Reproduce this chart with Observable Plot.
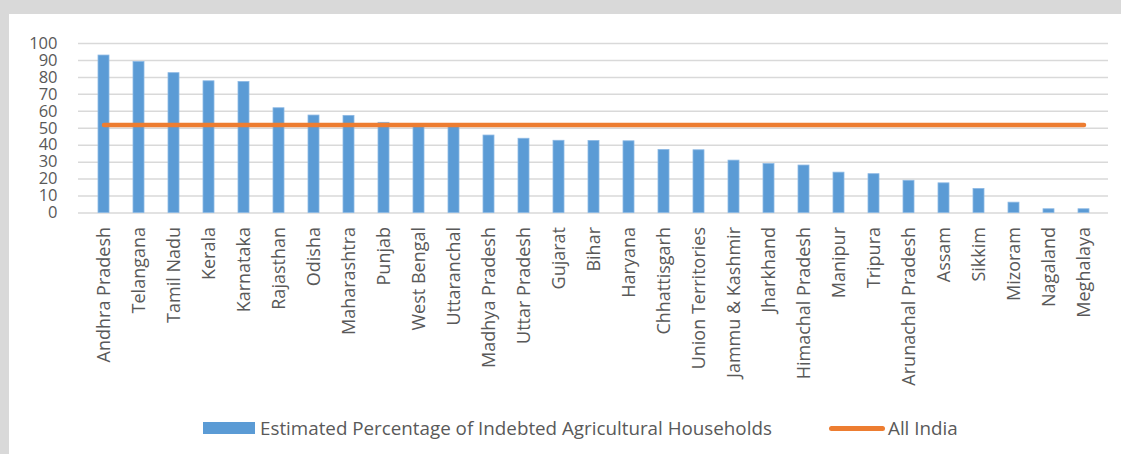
<!DOCTYPE html>
<html>
<head>
<meta charset="utf-8">
<script src="https://cdn.jsdelivr.net/npm/d3@7"></script>
<script src="https://cdn.jsdelivr.net/npm/@observablehq/plot@0.6"></script>
<style>
  html, body { margin: 0; padding: 0; background: #D9D9D9; width: 1121px; height: 454px; overflow: hidden; }
  #panel { position: absolute; left: 9px; top: 14px; width: 1112px; height: 440px; background: #fff; }
  #chart { position: absolute; left: 0; top: 0; }
  .sw { position: absolute; }
  .lt { position: absolute; top: 401px; height: 26px; line-height: 26px; font-family: "Open Sans", sans-serif; font-size: 18.8px; color: #595959; white-space: nowrap; }
</style>
</head>
<body>
<div id="panel">
  <div id="chart"></div>
  <div class="sw" style="left:194px;top:408px;width:52px;height:12px;background:#5B9BD5;"></div>
  <div class="lt" style="left:251px;">Estimated Percentage of Indebted Agricultural Households</div>
  <div class="sw" style="left:820px;top:412px;width:56px;height:5px;border-radius:3px;background:#ED7D31;"></div>
  <div class="lt" style="left:879px;">All India</div>
</div>
<script>
const states = ["Andhra Pradesh","Telangana","Tamil Nadu","Kerala","Karnataka","Rajasthan","Odisha","Maharashtra","Punjab","West Bengal","Uttaranchal","Madhya Pradesh","Uttar Pradesh","Gujarat","Bihar","Haryana","Chhattisgarh","Union Territories","Jammu & Kashmir","Jharkhand","Himachal Pradesh","Manipur","Tripura","Arunachal Pradesh","Assam","Sikkim","Mizoram","Nagaland","Meghalaya"];
const indebtedPct = [92.9,89.1,82.5,77.7,77.3,61.8,57.5,57.3,53.2,51.5,50.8,45.7,43.8,42.6,42.5,42.3,37.2,37.0,30.9,28.9,28.0,23.8,22.9,19.0,17.5,14.2,6.1,2.2,2.2];
const allIndia = 51.9;
const yTicks = [0,10,20,30,40,50,60,70,80,90,100];

const rows = states.map((s, i) => ({state: s, pct: indebtedPct[i], all: allIndia}));

const chart = Plot.plot({
  width: 1112,
  height: 372,
  marginLeft: 69,
  marginRight: 13,
  marginTop: 29,
  marginBottom: 173.5,
  style: { fontFamily: "Open Sans, sans-serif", color: "#595959", background: "transparent" },
  x: { domain: states, paddingInner: 0.69, paddingOuter: 0.345, label: null },
  y: { domain: [0, 100], label: null },
  marks: [
    Plot.gridY(yTicks, { stroke: "#D9D9D9", strokeOpacity: 1, strokeWidth: 1.5 }),
    Plot.barY(rows, { x: "state", y: "pct", fill: "#5B9BD5", stroke: "#8DB9E4", strokeWidth: 0.8 }),
    Plot.lineY(rows, { x: "state", y: "all", stroke: "#ED7D31", strokeWidth: 4.5, strokeLinecap: "round" }),
    Plot.axisY(yTicks, { tickSize: 0, tickPadding: 21, fontSize: 16.5, fill: "#595959", label: null }),
    Plot.axisX({ tickSize: 0, tickRotate: -90, tickPadding: 14, fontSize: 18, fill: "#595959", label: null })
  ]
});
document.getElementById("chart").appendChild(chart);
</script>
</body>
</html>
